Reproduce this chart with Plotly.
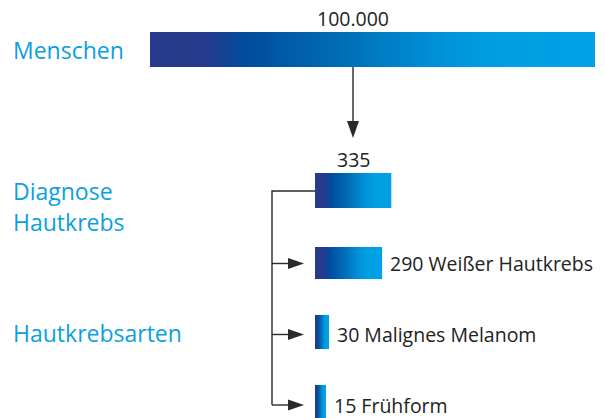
import plotly.graph_objects as go

# ---------------- data ----------------
TOTAL_LABEL = "Menschen"
TOTAL_VALUE = 100000
DIAG_LABEL_LINES = ["Diagnose", "Hautkrebs"]
DIAG_VALUE = 335
TYPES_LABEL = "Hautkrebsarten"
TYPE_NAMES = ["Weißer Hautkrebs", "Malignes Melanom", "Frühform"]
TYPE_VALUES = [290, 30, 15]

# ---------------- style / layout ----------------
W, H = 606, 418
FONT = "Open Sans"
LABEL_BLUE = "#0b9fe1"
TEXT_DARK = "#222222"
LINE_DARK = "#2a2a2a"
GRADIENT = [[0.0, "#283a8b"], [0.12, "#273a8c"], [0.22, "#004d9d"],
            [0.45, "#0070b9"], [0.65, "#0092d9"], [0.8, "#00a0e3"],
            [1.0, "#00a2e5"]]

TOP_DOMAIN_PX = (150, 595)          # pixel extent of the 100.000 axis
SUB_START_PX = 315                  # left edge of the sub-bar axis
SUB_PX_PER_UNIT = 0.204
SUB_AXIS_MIN = -39                  # bars grow from the axis start
SUB_AXIS_MAX = SUB_AXIS_MIN + (W - SUB_START_PX) / SUB_PX_PER_UNIT

TOP_BAR = (32, 67)
DIAG_BAR = (173, 208)
TYPE_BARS = [(247, 279), (315, 349), (385, 419)]
TYPE_TEXT_Y = [263.5, 334.5, 405]
ARROW_X = 353
BRANCH_X = 272
DIAG_LINE_Y = 191
LEFT_X = 11


def fmt(v):
    return f"{v:,}".replace(",", ".")


def bar_trace(value, y0, y1, xaxis, base=0):
    return go.Scatter(
        x=[base, value, value, base, base],
        y=[y0, y0, y1, y1, y0],
        xaxis=xaxis, yaxis="y",
        mode="lines", line=dict(width=0),
        fill="toself",
        fillgradient=dict(type="horizontal", colorscale=GRADIENT),
        hoverinfo="skip", showlegend=False,
    )


fig = go.Figure()

# connector (pixel axis)
fig.add_trace(go.Scatter(
    x=[SUB_START_PX, BRANCH_X, BRANCH_X],
    y=[DIAG_LINE_Y, DIAG_LINE_Y, TYPE_TEXT_Y[-1]],
    xaxis="x", yaxis="y", mode="lines",
    line=dict(color=LINE_DARK, width=1.4),
    hoverinfo="skip", showlegend=False))

fig.add_trace(bar_trace(TOTAL_VALUE, *TOP_BAR, "x2"))
fig.add_trace(bar_trace(DIAG_VALUE, *DIAG_BAR, "x3", base=SUB_AXIS_MIN))
for v, (y0, y1) in zip(TYPE_VALUES, TYPE_BARS):
    fig.add_trace(bar_trace(v, y0, y1, "x3", base=SUB_AXIS_MIN))

shapes = []
# vertical arrow from total bar down to diagnosis
shapes.append(dict(type="line", xref="x", yref="y", x0=ARROW_X, x1=ARROW_X,
                   y0=TOP_BAR[1], y1=122, line=dict(color=LINE_DARK, width=1.4)))
shapes.append(dict(type="path", xref="x", yref="y",
                   path=f"M {ARROW_X-6},121 L {ARROW_X+6},121 L {ARROW_X},138 Z",
                   fillcolor=LINE_DARK, line=dict(width=0)))
# horizontal arrows to each type
for y in TYPE_TEXT_Y:
    shapes.append(dict(type="line", xref="x", yref="y", x0=BRANCH_X, x1=289,
                       y0=y, y1=y, line=dict(color=LINE_DARK, width=1.4)))
    shapes.append(dict(type="path", xref="x", yref="y",
                       path=f"M 288,{y-5.5} L 288,{y+5.5} L 304,{y} Z",
                       fillcolor=LINE_DARK, line=dict(width=0)))

ann = []
left_font = dict(family=FONT, size=23, color=LABEL_BLUE)
dark_font = dict(family=FONT, size=19.5, color=TEXT_DARK)
ann.append(dict(text=TOTAL_LABEL, x=LEFT_X, y=50, xref="x", yref="y",
                xanchor="left", yanchor="middle", showarrow=False, font=left_font))
ann.append(dict(text=DIAG_LABEL_LINES[0], x=LEFT_X, y=191, xref="x", yref="y",
                xanchor="left", yanchor="middle", showarrow=False, font=left_font))
ann.append(dict(text=DIAG_LABEL_LINES[1], x=LEFT_X, y=222, xref="x", yref="y",
                xanchor="left", yanchor="middle", showarrow=False, font=left_font))
ann.append(dict(text=TYPES_LABEL, x=LEFT_X, y=333, xref="x", yref="y",
                xanchor="left", yanchor="middle", showarrow=False, font=left_font))
ann.append(dict(text=fmt(TOTAL_VALUE), x=ARROW_X, y=18.5, xref="x", yref="y",
                xanchor="center", yanchor="middle", showarrow=False, font=dark_font))
ann.append(dict(text=fmt(DIAG_VALUE), x=ARROW_X, y=159, xref="x", yref="y",
                xanchor="center", yanchor="middle", showarrow=False, font=dark_font))
for name, v, y in zip(TYPE_NAMES, TYPE_VALUES, TYPE_TEXT_Y):
    ann.append(dict(text=f"{fmt(v)} {name}", x=v, y=y, xref="x3", yref="y",
                    xshift=6, xanchor="left", yanchor="middle", showarrow=False,
                    font=dark_font))

hidden = dict(visible=False, showgrid=False, zeroline=False, fixedrange=True)
fig.update_layout(
    width=W, height=H,
    margin=dict(l=0, r=0, t=0, b=0),
    paper_bgcolor="white", plot_bgcolor="rgba(0,0,0,0)",
    xaxis=dict(range=[0, W], domain=[0, 1], **hidden),
    xaxis2=dict(range=[0, TOTAL_VALUE], anchor="y",
                domain=[TOP_DOMAIN_PX[0] / W, TOP_DOMAIN_PX[1] / W], **hidden),
    xaxis3=dict(range=[SUB_AXIS_MIN, SUB_AXIS_MAX], anchor="y",
                domain=[SUB_START_PX / W, 1], **hidden),
    yaxis=dict(range=[H, 0], domain=[0, 1], **hidden),
    shapes=shapes, annotations=ann,
    showlegend=False,
)

fig.write_html("out.html", config={"displayModeBar": False},
               post_script="document.body.style.margin='0';")
